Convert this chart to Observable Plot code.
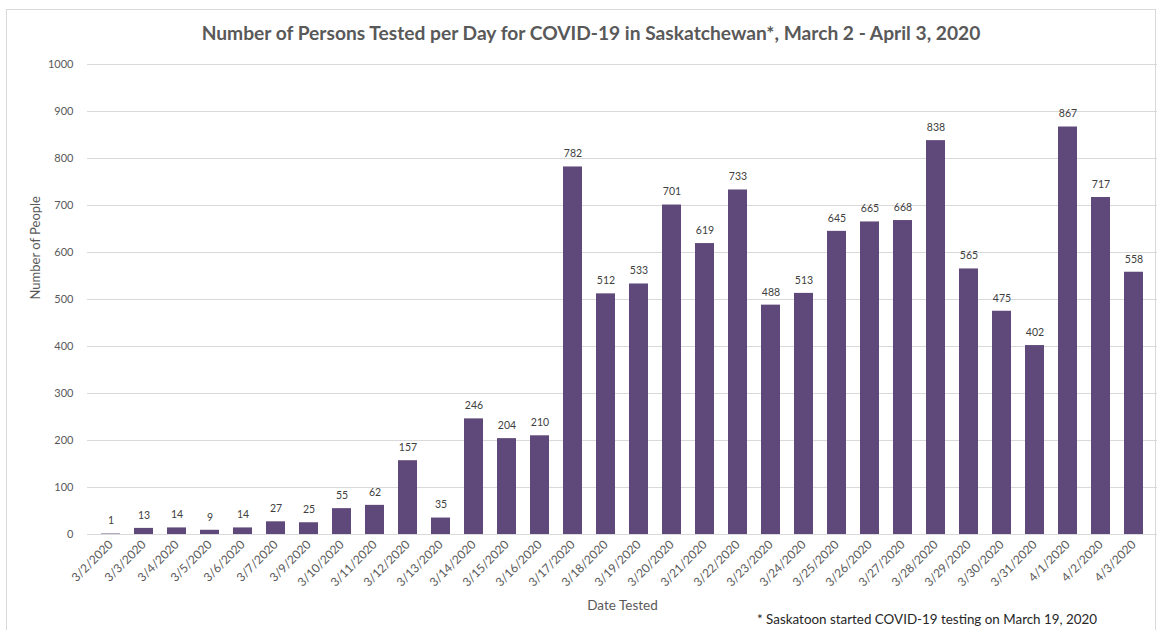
<!DOCTYPE html>
<html>
<head>
<meta charset="utf-8">
<script src="https://cdn.jsdelivr.net/npm/d3@7"></script>
<script src="https://cdn.jsdelivr.net/npm/@observablehq/plot@0.6"></script>
<style>
  body { margin: 0; background: #fff; }
  #wrap { position: relative; width: 1161px; height: 630px; overflow: hidden; font-family: Lato, "Open Sans", sans-serif; }
  #frame { position: absolute; left: 6px; top: 9px; width: 1150px; height: 640px; border: 1px solid #d9d9d9; box-sizing: border-box; }
  #title { position: absolute; left: 0; width: 1182px; top: 21px; text-align: center; font-size: 19.2px; font-weight: 700; color: #595959; white-space: nowrap; }
  #note { position: absolute; left: 757px; top: 611px; font-size: 13.4px; color: #262626; white-space: nowrap; }
  #chart { position: absolute; left: 0; top: 0; }
</style>
</head>
<body>
<div id="wrap">
  <div id="frame"></div>
  <div id="chart"></div>
  <div id="title">Number of Persons Tested per Day for COVID-19 in Saskatchewan*, March 2 - April 3, 2020</div>
  <div id="note">* Saskatoon started COVID-19 testing on March 19, 2020</div>
</div>
<script>
const dates = ["3/2/2020","3/3/2020","3/4/2020","3/5/2020","3/6/2020","3/7/2020","3/9/2020","3/10/2020","3/11/2020","3/12/2020","3/13/2020","3/14/2020","3/15/2020","3/16/2020","3/17/2020","3/18/2020","3/19/2020","3/20/2020","3/21/2020","3/22/2020","3/23/2020","3/24/2020","3/25/2020","3/26/2020","3/27/2020","3/28/2020","3/29/2020","3/30/2020","3/31/2020","4/1/2020","4/2/2020","4/3/2020"];
const counts = [1,13,14,9,14,27,25,55,62,157,35,246,204,210,782,512,533,701,619,733,488,513,645,665,668,838,565,475,402,867,717,558];
const yTicks = [0,100,200,300,400,500,600,700,800,900,1000];
const xLabel = "Date Tested";
const yLabel = "Number of People";

const data = dates.map((d, i) => ({date: d, count: counts[i]}));

const chart = Plot.plot({
  width: 1161,
  height: 630,
  marginLeft: 87,
  marginRight: 4,
  marginTop: 64,
  marginBottom: 96,
  style: {fontFamily: "Lato, 'Open Sans', sans-serif", fontSize: "11px", color: "#595959", background: "transparent", overflow: "visible"},
  x: {domain: dates, padding: 0, label: null},
  y: {domain: [0, 1000], label: null},
  marks: [
    Plot.gridY(yTicks, {stroke: "#d9d9d9", strokeOpacity: 1}),
    Plot.barY(data, {x: "date", y: "count", fill: "#5f497a", insetLeft: 7, insetRight: 7}),
    Plot.ruleY([0], {stroke: "#d9d9d9"}),
    Plot.text(data, {x: "date", y: "count", text: d => String(d.count), dy: -13, fill: "#404040", fontSize: 10.5}),
    Plot.axisY(yTicks, {tickSize: 0, tickPadding: 14, label: null, fontSize: 11, tickFormat: d => String(d)}),
    Plot.axisX({tickRotate: -45, tickSize: 0, tickPadding: 8, label: null, fontSize: 12}),
    Plot.text([xLabel], {frameAnchor: "bottom", dy: 75, fontSize: 13.5, fill: "#595959"}),
    Plot.text([yLabel], {frameAnchor: "left", dx: -52, rotate: -90, fontSize: 13, fill: "#595959"})
  ]
});
document.getElementById("chart").appendChild(chart);
</script>
</body>
</html>
